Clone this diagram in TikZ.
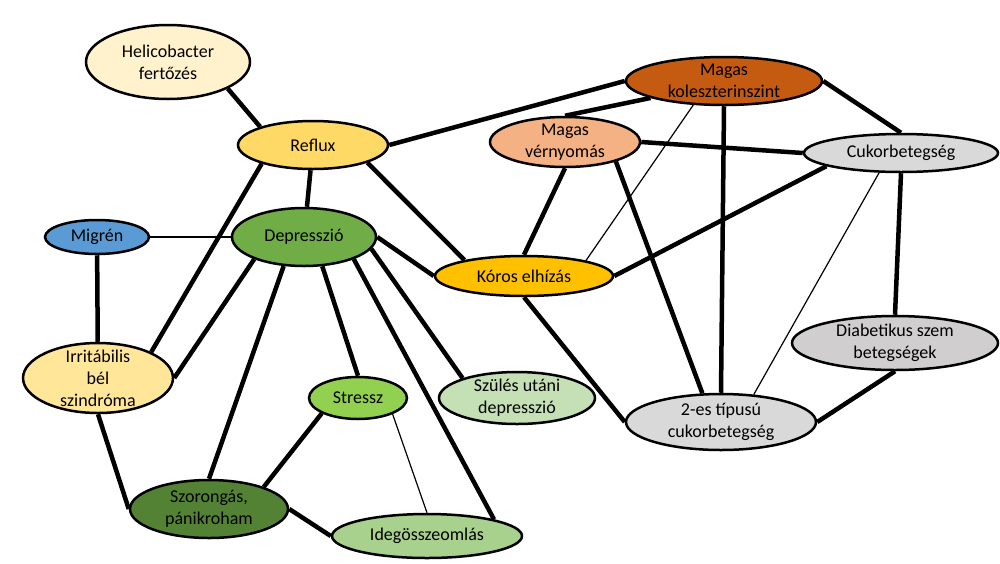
\documentclass[tikz,border=0pt]{standalone}
\usepackage{fontspec}
\setmainfont{Carlito}
\usetikzlibrary{shapes.geometric}
\definecolor{cHelico}{HTML}{FFF2CC}
\definecolor{cReflux}{HTML}{FFD966}
\definecolor{cMigren}{HTML}{5B9BD5}
\definecolor{cDepr}{HTML}{70AD47}
\definecolor{cIrrit}{HTML}{FFE699}
\definecolor{cSzor}{HTML}{548235}
\definecolor{cStressz}{HTML}{92D050}
\definecolor{cSzules}{HTML}{C5E0B4}
\definecolor{cIdeg}{HTML}{A9D18E}
\definecolor{cKoros}{HTML}{FFC000}
\definecolor{cVerny}{HTML}{F4B183}
\definecolor{cKol}{HTML}{C55A11}
\definecolor{cCukor}{HTML}{D9D9D9}
\definecolor{cDiab}{HTML}{D0CECE}

\begin{document}
\begin{tikzpicture}[x=1pt,y=-1pt,
 bubble/.style n args={3}{ellipse, draw=black, line width=2.5pt, fill=#1, minimum width=#2, minimum height=#3, inner xsep=0pt, inner ysep=-6pt, align=center, font=\fontsize{18}{22}\selectfont},
 link/.style={line width=4.5pt},
 thinlink/.style={line width=1.2pt}]
\useasboundingbox (0,0) rectangle (1000,563);
\node[bubble={cHelico}{164pt}{74pt}] (helico) at (168,62) {Helicobacter\\fertőzés};
\node[bubble={cReflux}{150pt}{48pt}] (reflux) at (313,145) {Reflux};
\node[bubble={cMigren}{104pt}{34pt}] (migren) at (97,237) {Migrén};
\node[bubble={cDepr}{144pt}{58pt}] (depr) at (304,237) {Depresszió};
\node[bubble={cIrrit}{150pt}{70pt}] (irrit) at (98,378) {Irritábilis\\bél\\szindróma};
\node[bubble={cSzor}{158pt}{58pt}] (szor) at (209,509) {Szorongás,\\pánikroham};
\node[bubble={cStressz}{98pt}{42pt}] (stressz) at (358,398) {Stressz};
\node[bubble={cSzules}{156pt}{52pt}] (szules) at (517,398) {Szülés utáni\\depresszió};
\node[bubble={cIdeg}{190pt}{44pt}] (ideg) at (427,536) {Idegösszeomlás};
\node[bubble={cKoros}{178pt}{40pt}] (koros) at (524,276) {Kóros elhízás};
\node[bubble={cVerny}{150pt}{50pt}] (verny) at (565,142) {Magas\\vérnyomás};
\node[bubble={cKol}{196pt}{48pt}] (kol) at (724,81) {Magas\\koleszterinszint};
\node[bubble={cCukor}{194pt}{38pt}] (cukor) at (901,153) {Cukorbetegség};
\node[bubble={cDiab}{206pt}{54pt}] (diab) at (895,343) {Diabetikus szem\\betegségek};
\node[bubble={cCukor}{190pt}{56pt}] (tipus2) at (721,422) {2-es típusú\\cukorbetegség};
\foreach \a/\b in {helico.-24/reflux.161, reflux.east/kol.west, reflux/depr, reflux.-18/koros.165, reflux.200/irrit.26, migren/irrit, depr.204/irrit.east, depr.235/szor.north, depr.-58/stressz.north, depr.-24/ideg.14, depr.-10/szules.160, depr.east/koros.west, stressz.203/szor.22, szor.east/ideg.west, irrit.south/szor.west, koros.south/tipus2.west, koros.north/verny.south, koros.east/cukor.190, verny.north/kol.193, verny.east/cukor.west, verny.-21/tipus2.123, kol.south/tipus2.north, kol.east/cukor.north, cukor.south/diab.north, diab.south/tipus2.east}
 \draw[link] (\a) -- (\b);
\foreach \a/\b in {migren/depr, koros.14/kol.218, stressz.-25/ideg.north, cukor.222/tipus2.40}
 \draw[thinlink] (\a) -- (\b);
\end{tikzpicture}
\end{document}
